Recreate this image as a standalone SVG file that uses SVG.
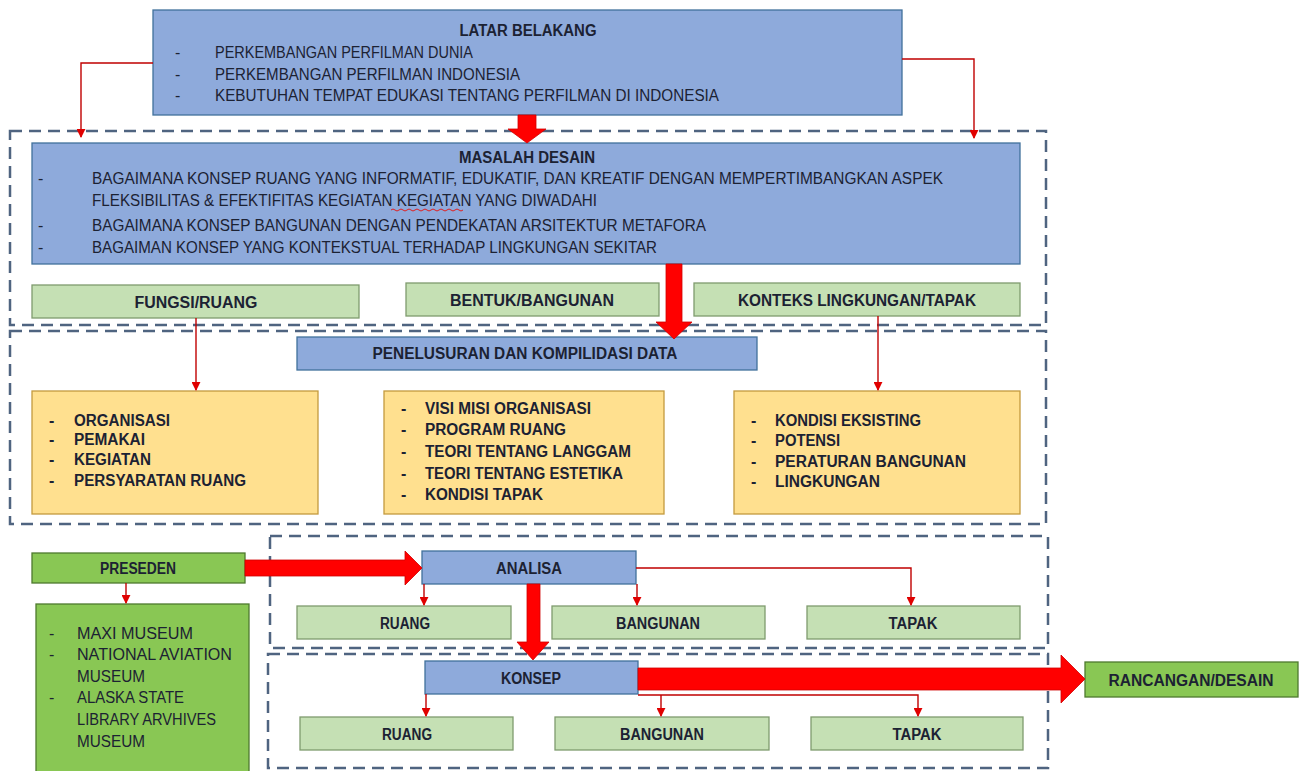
<svg xmlns="http://www.w3.org/2000/svg" width="1306" height="771" viewBox="0 0 1306 771">
<style>
text{font-family:"Liberation Sans",Arial,sans-serif;fill:#1c2233;font-size:16px}
.b{font-weight:bold}
.c{text-anchor:middle}
.blue{fill:#8EAADB;stroke:#41719C;stroke-width:1.3}
.lg{fill:#C5E0B4;stroke:#7F9B6E;stroke-width:1.3}
.or{fill:#FFE08F;stroke:#C49A3E;stroke-width:1.3}
.gr{fill:#89C754;stroke:#4E7A2E;stroke-width:1.3}
.dash{fill:none;stroke:#4F6480;stroke-width:2.5;stroke-dasharray:12 7}
.thin{fill:none;stroke:#C00000;stroke-width:1.4}
.big{fill:#FF0000;stroke:#D00000;stroke-width:0.8}
</style>
<defs>
<marker id="ah" viewBox="0 0 10 10" refX="9" refY="5" markerWidth="9" markerHeight="9" markerUnits="userSpaceOnUse" orient="auto">
<path d="M0,0 L10,5 L0,10 z" fill="#E00000"/>
</marker>
</defs>
<rect width="1306" height="771" fill="#ffffff"/>

<g id="containers">
<rect class="dash" x="10" y="131" width="1036" height="194"/>
<rect class="dash" x="10" y="331" width="1036" height="193"/>
<rect class="dash" x="270" y="536" width="778" height="112"/>
<rect class="dash" x="268" y="654" width="780" height="114"/>
</g>

<g id="latar">
<rect class="blue" x="153" y="10" width="749" height="105"/>
<text class="b c" x="528" y="36" textLength="137" lengthAdjust="spacingAndGlyphs">LATAR BELAKANG</text>
<text x="175" y="58">-</text><text x="215" y="58" textLength="258" lengthAdjust="spacingAndGlyphs">PERKEMBANGAN PERFILMAN DUNIA</text>
<text x="175" y="80">-</text><text x="215" y="80" textLength="305" lengthAdjust="spacingAndGlyphs">PERKEMBANGAN PERFILMAN INDONESIA</text>
<text x="175" y="101">-</text><text x="215" y="101" textLength="504" lengthAdjust="spacingAndGlyphs">KEBUTUHAN TEMPAT EDUKASI TENTANG PERFILMAN DI INDONESIA</text>
</g>

<g id="masalah">
<rect class="blue" x="32" y="143" width="988" height="121"/>
<text class="b c" x="527" y="163" textLength="136" lengthAdjust="spacingAndGlyphs">MASALAH DESAIN</text>
<text x="38" y="184">-</text><text x="92" y="184" textLength="851" lengthAdjust="spacingAndGlyphs">BAGAIMANA KONSEP RUANG YANG INFORMATIF, EDUKATIF, DAN KREATIF DENGAN MEMPERTIMBANGKAN ASPEK</text>
<text x="92" y="206" textLength="505" lengthAdjust="spacingAndGlyphs">FLEKSIBILITAS &amp; EFEKTIFITAS KEGIATAN KEGIATAN YANG DIWADAHI</text>
<path d="M391,210 q2,-2 4,0 t4,0 t4,0 t4,0 t4,0 t4,0 t4,0 t4,0 t4,0 t4,0 t4,0 t4,0 t4,0 t4,0 t4,0 t4,0 t4,0 t4,0" fill="none" stroke="#E02020" stroke-width="1"/>
<text x="38" y="231">-</text><text x="92" y="231" textLength="614" lengthAdjust="spacingAndGlyphs">BAGAIMANA KONSEP BANGUNAN DENGAN PENDEKATAN ARSITEKTUR METAFORA</text>
<text x="38" y="253">-</text><text x="92" y="253" textLength="565" lengthAdjust="spacingAndGlyphs">BAGAIMAN KONSEP YANG KONTEKSTUAL TERHADAP LINGKUNGAN SEKITAR</text>
</g>

<g id="fungsi">
<rect class="lg" x="32" y="285" width="327" height="33"/>
<text class="b c" x="196" y="308" textLength="123" lengthAdjust="spacingAndGlyphs">FUNGSI/RUANG</text>
</g>
<g id="bentuk">
<rect class="lg" x="406" y="283" width="253" height="33"/>
<text class="b c" x="532" y="306" textLength="164" lengthAdjust="spacingAndGlyphs">BENTUK/BANGUNAN</text>
</g>
<g id="konteks">
<rect class="lg" x="694" y="283" width="326" height="33"/>
<text class="b c" x="857" y="306" textLength="238" lengthAdjust="spacingAndGlyphs">KONTEKS LINGKUNGAN/TAPAK</text>
</g>

<g id="penelusuran">
<rect class="blue" x="297" y="337" width="460" height="33"/>
<text class="b c" x="525" y="359" textLength="305" lengthAdjust="spacingAndGlyphs">PENELUSURAN DAN KOMPILIDASI DATA</text>
</g>

<g id="data-fungsi">
<rect class="or" x="32" y="391" width="286" height="123"/>
<text class="b" x="49" y="426">-</text><text class="b" x="74" y="426" textLength="96" lengthAdjust="spacingAndGlyphs">ORGANISASI</text>
<text class="b" x="49" y="445">-</text><text class="b" x="74" y="445" textLength="71" lengthAdjust="spacingAndGlyphs">PEMAKAI</text>
<text class="b" x="49" y="465">-</text><text class="b" x="74" y="465" textLength="77" lengthAdjust="spacingAndGlyphs">KEGIATAN</text>
<text class="b" x="49" y="486">-</text><text class="b" x="74" y="486" textLength="172" lengthAdjust="spacingAndGlyphs">PERSYARATAN RUANG</text>
</g>
<g id="data-bentuk">
<rect class="or" x="384" y="391" width="280" height="123"/>
<text class="b" x="401" y="414">-</text><text class="b" x="425" y="414" textLength="166" lengthAdjust="spacingAndGlyphs">VISI MISI ORGANISASI</text>
<text class="b" x="401" y="435">-</text><text class="b" x="425" y="435" textLength="141" lengthAdjust="spacingAndGlyphs">PROGRAM RUANG</text>
<text class="b" x="401" y="457">-</text><text class="b" x="425" y="457" textLength="206" lengthAdjust="spacingAndGlyphs">TEORI TENTANG LANGGAM</text>
<text class="b" x="401" y="479">-</text><text class="b" x="425" y="479" textLength="198" lengthAdjust="spacingAndGlyphs">TEORI TENTANG ESTETIKA</text>
<text class="b" x="401" y="500">-</text><text class="b" x="425" y="500" textLength="118" lengthAdjust="spacingAndGlyphs">KONDISI TAPAK</text>
</g>
<g id="data-konteks">
<rect class="or" x="734" y="391" width="286" height="123"/>
<text class="b" x="751" y="426">-</text><text class="b" x="775" y="426" textLength="146" lengthAdjust="spacingAndGlyphs">KONDISI EKSISTING</text>
<text class="b" x="751" y="446">-</text><text class="b" x="775" y="446" textLength="65" lengthAdjust="spacingAndGlyphs">POTENSI</text>
<text class="b" x="751" y="467">-</text><text class="b" x="775" y="467" textLength="191" lengthAdjust="spacingAndGlyphs">PERATURAN BANGUNAN</text>
<text class="b" x="751" y="487">-</text><text class="b" x="775" y="487" textLength="105" lengthAdjust="spacingAndGlyphs">LINGKUNGAN</text>
</g>

<g id="preseden">
<rect class="gr" x="32" y="553" width="213" height="30"/>
<text class="b c" x="138" y="574" textLength="76" lengthAdjust="spacingAndGlyphs">PRESEDEN</text>
</g>
<g id="museum">
<rect class="gr" x="36" y="604" width="213" height="175"/>
<text x="49" y="639">-</text><text x="77" y="639" textLength="116" lengthAdjust="spacingAndGlyphs">MAXI MUSEUM</text>
<text x="49" y="660">-</text><text x="77" y="660" textLength="155" lengthAdjust="spacingAndGlyphs">NATIONAL AVIATION</text>
<text x="77" y="682" textLength="68" lengthAdjust="spacingAndGlyphs">MUSEUM</text>
<text x="49" y="703">-</text><text x="77" y="703" textLength="107" lengthAdjust="spacingAndGlyphs">ALASKA STATE</text>
<text x="77" y="725" textLength="139" lengthAdjust="spacingAndGlyphs">LIBRARY ARVHIVES</text>
<text x="77" y="747" textLength="68" lengthAdjust="spacingAndGlyphs">MUSEUM</text>
</g>

<g id="analisa">
<rect class="blue" x="422" y="551" width="214" height="33"/>
<text class="b c" x="529" y="574" textLength="66" lengthAdjust="spacingAndGlyphs">ANALISA</text>
</g>
<g id="a-ruang">
<rect class="lg" x="297" y="606" width="214" height="33"/>
<text class="b c" x="405" y="629" textLength="50" lengthAdjust="spacingAndGlyphs">RUANG</text>
</g>
<g id="a-bangunan">
<rect class="lg" x="552" y="606" width="213" height="33"/>
<text class="b c" x="658" y="629" textLength="84" lengthAdjust="spacingAndGlyphs">BANGUNAN</text>
</g>
<g id="a-tapak">
<rect class="lg" x="807" y="606" width="213" height="33"/>
<text class="b c" x="913" y="629" textLength="49" lengthAdjust="spacingAndGlyphs">TAPAK</text>
</g>

<g id="konsep">
<rect class="blue" x="425" y="661" width="213" height="33"/>
<text class="b c" x="531" y="684" textLength="60" lengthAdjust="spacingAndGlyphs">KONSEP</text>
</g>
<g id="k-ruang">
<rect class="lg" x="300" y="717" width="213" height="33"/>
<text class="b c" x="407" y="740" textLength="50" lengthAdjust="spacingAndGlyphs">RUANG</text>
</g>
<g id="k-bangunan">
<rect class="lg" x="555" y="717" width="214" height="33"/>
<text class="b c" x="662" y="740" textLength="84" lengthAdjust="spacingAndGlyphs">BANGUNAN</text>
</g>
<g id="k-tapak">
<rect class="lg" x="811" y="717" width="212" height="33"/>
<text class="b c" x="917" y="740" textLength="49" lengthAdjust="spacingAndGlyphs">TAPAK</text>
</g>

<g id="rancangan">
<rect class="gr" x="1085" y="662" width="213" height="35"/>
<text class="b c" x="1191" y="686" textLength="165" lengthAdjust="spacingAndGlyphs">RANCANGAN/DESAIN</text>
</g>

<g id="connectors">
<path class="thin" d="M153,63 H81 V137" marker-end="url(#ah)"/>
<path class="thin" d="M902,59 H974 V138" marker-end="url(#ah)"/>
<path class="thin" d="M196,318 V390" marker-end="url(#ah)"/>
<path class="thin" d="M878,316 V390" marker-end="url(#ah)"/>
<path class="thin" d="M126,583 V603" marker-end="url(#ah)"/>
<path class="thin" d="M424,584 V605" marker-end="url(#ah)"/>
<path class="thin" d="M637,584 V605" marker-end="url(#ah)"/>
<path class="thin" d="M636,568 H911 V605" marker-end="url(#ah)"/>
<path class="thin" d="M426,694 V716" marker-end="url(#ah)"/>
<path class="thin" d="M638,695 H918 V716" marker-end="url(#ah)"/>
<path class="thin" d="M661,695 V716" marker-end="url(#ah)"/>
<path class="big" d="M518,115 H536 V129 H546 L527,143 L508,129 H518 Z"/>
<path class="big" d="M666,264 H682 V322 H692 L674,339 L656,322 H666 Z"/>
<path class="big" d="M245,560 H405 V551 L422,568 L405,585 V576 H245 Z"/>
<path class="big" d="M527,584 H540 V642 H549 L533,660 L517,642 H527 Z"/>
<path class="big" d="M638,668 H1061 V655 L1085,679 L1061,703 V690 H638 Z"/>
</g>
</svg>
